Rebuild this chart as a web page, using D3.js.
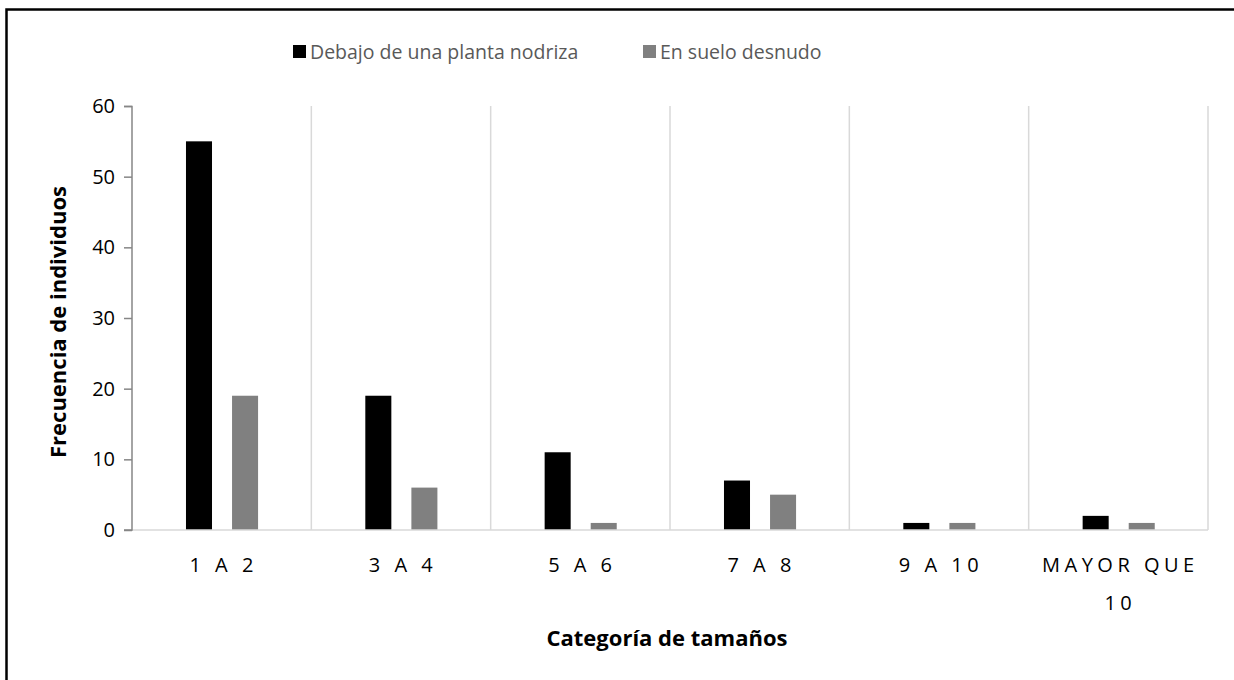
<!DOCTYPE html>
<html>
<head>
<meta charset="utf-8">
<script src="https://cdn.jsdelivr.net/npm/d3@7"></script>
<style>
  html, body { margin: 0; padding: 0; background: #fff; }
  svg { display: block; }
  text { font-family: "Open Sans", sans-serif; }
</style>
</head>
<body>
<svg id="chart" width="1234" height="680"></svg>
<script>
const categories = ["1 A 2", "3 A 4", "5 A 6", "7 A 8", "9 A 10", "MAYOR QUE 10"];
const seriesNames = ["Debajo de una planta nodriza", "En suelo desnudo"];
const seriesColors = ["#000000", "#808080"];
const nodriza = [55, 19, 11, 7, 1, 2];
const desnudo = [19, 6, 1, 5, 1, 1];
const yTicks = [0, 10, 20, 30, 40, 50, 60];
const yTitle = "Frecuencia de individuos";
const xTitle = "Categoría de tamaños";

const svg = d3.select("#chart");
const W = 1234, H = 680;
const m = { left: 132, right: 26, top: 106, bottom: 150 };
const plotW = W - m.left - m.right;  // 1076
const plotH = H - m.top - m.bottom;  // 424

// frame
svg.append("rect")
  .attr("x", 6.5).attr("y", 9.5)
  .attr("width", 1400).attr("height", 800)
  .attr("fill", "none").attr("stroke", "#000").attr("stroke-width", 2.5);

const g = svg.append("g").attr("transform", `translate(${m.left},${m.top})`);

const x0 = d3.scaleBand().domain(categories).range([0, plotW]).paddingInner(0).paddingOuter(0);
const x1 = d3.scaleBand().domain(seriesNames)
  .range([x0.bandwidth() * 0.301, x0.bandwidth() * 0.703])
  .paddingInner(0.435).paddingOuter(0);
const y = d3.scaleLinear().domain([0, 60]).range([plotH, 0]);

// vertical gridlines at category boundaries
const bounds = categories.map(c => x0(c)).concat([plotW]).slice(1);
g.selectAll("line.grid").data(bounds).enter().append("line")
  .attr("class", "grid")
  .attr("x1", d => d).attr("x2", d => d)
  .attr("y1", 0).attr("y2", plotH)
  .attr("stroke", "#d9d9d9").attr("stroke-width", 1.5);

// bars
const data = categories.map((c, i) => ({ cat: c, vals: [nodriza[i], desnudo[i]] }));
const groups = g.selectAll("g.cat").data(data).enter().append("g")
  .attr("transform", d => `translate(${x0(d.cat)},0)`);
groups.selectAll("rect").data(d => d.vals.map((v, j) => ({ name: seriesNames[j], v, color: seriesColors[j] })))
  .enter().append("rect")
  .attr("x", d => x1(d.name))
  .attr("width", x1.bandwidth())
  .attr("y", d => y(d.v))
  .attr("height", d => plotH - y(d.v))
  .attr("fill", d => d.color);

// x axis line
g.append("line").attr("x1", 0).attr("x2", plotW).attr("y1", plotH).attr("y2", plotH)
  .attr("stroke", "#d9d9d9").attr("stroke-width", 1.5);

// y axis
const yAxis = d3.axisLeft(y).tickValues(yTicks).tickSize(8).tickPadding(9).tickFormat(d3.format("d"));
const ya = g.append("g").call(yAxis);
ya.select(".domain").attr("stroke", "#868686").attr("stroke-width", 1.5)
  .attr("d", `M-8,0.5H0V${plotH}H-8`);
ya.selectAll(".tick line").attr("stroke", "#868686").attr("stroke-width", 1.5);
ya.selectAll(".tick text").attr("font-size", 20).attr("fill", "#000")
  .attr("font-family", "'Open Sans', sans-serif");

// x labels
const xl = g.selectAll("text.xl").data(categories).enter().append("text")
  .attr("class", "xl")
  .attr("text-anchor", "middle")
  .attr("font-size", 20)
  .attr("fill", "#000")
  .attr("letter-spacing", "4.5px")
  .attr("transform", d => `translate(${x0(d) + x0.bandwidth() / 2 + 2},${plotH + 42})`);
xl.each(function (d) {
  const t = d3.select(this);
  const lines = d === "MAYOR QUE 10" ? ["MAYOR QUE", "10"] : [d];
  lines.forEach((ln, i) => {
    t.append("tspan").attr("x", 0).attr("dy", i === 0 ? 0 : 38).text(ln);
  });
});

// axis titles
svg.append("text")
  .attr("transform", `translate(66,${m.top + plotH / 2 + 4}) rotate(-90)`)
  .attr("text-anchor", "middle")
  .attr("font-size", 22).attr("font-weight", "bold").attr("fill", "#000")
  .text(yTitle);
svg.append("text")
  .attr("x", 667).attr("y", 646)
  .attr("text-anchor", "middle")
  .attr("font-size", 22).attr("font-weight", "bold").attr("fill", "#000")
  .text(xTitle);

// legend
const legendX = [293, 643];
const lg = svg.selectAll("g.leg").data(seriesNames).enter().append("g")
  .attr("transform", (d, i) => `translate(${legendX[i]},45)`);
lg.append("rect").attr("width", 13).attr("height", 13).attr("fill", (d, i) => seriesColors[i]);
lg.append("text").attr("x", 17).attr("y", 14)
  .attr("font-size", 19.5).attr("fill", "#595959").text(d => d);
</script>
</body>
</html>
